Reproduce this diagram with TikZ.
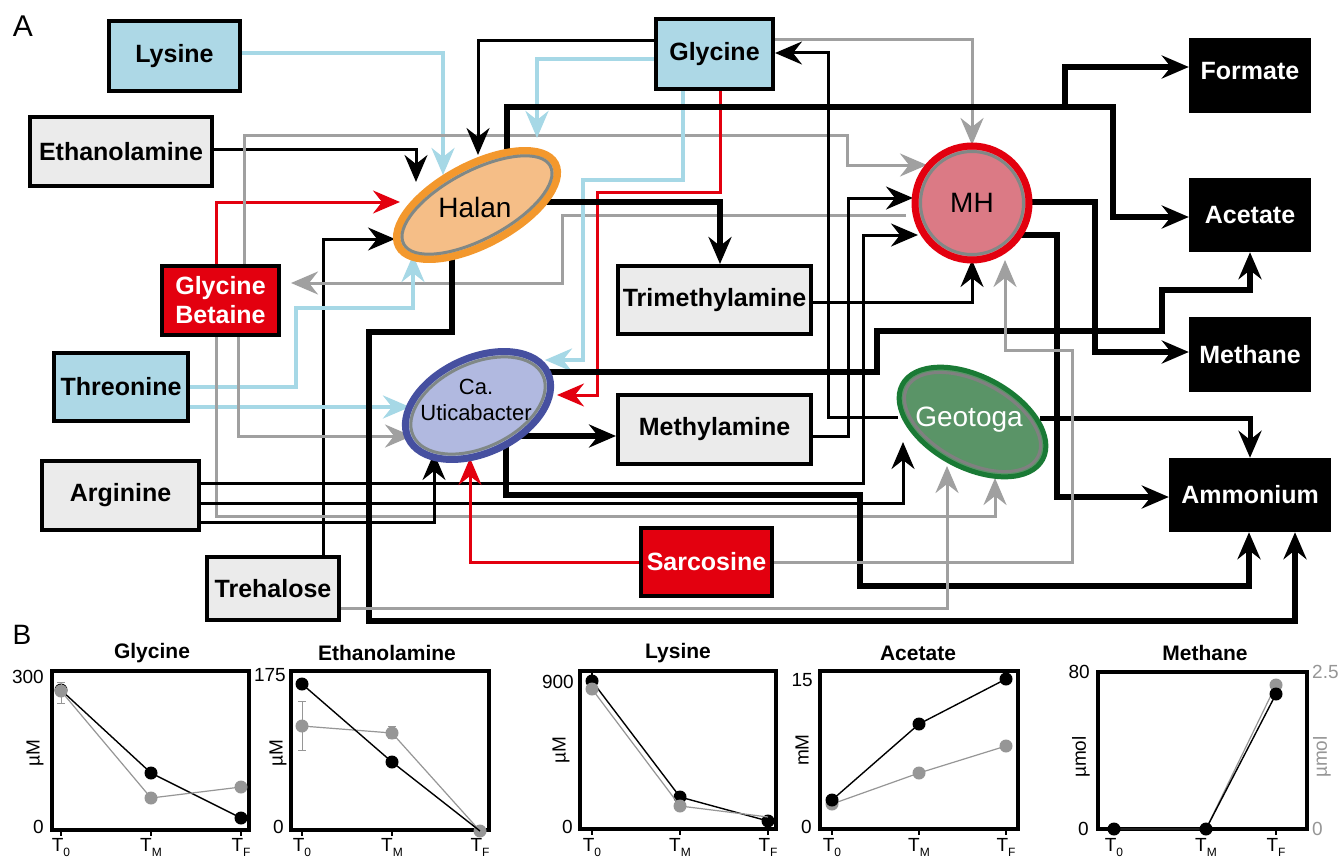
\documentclass[tikz,border=0pt]{standalone}
\usepackage{fontspec}
\setmainfont{Liberation Sans}
\usetikzlibrary{arrows.meta,shapes.geometric}
\pgfdeclarelayer{back}
\pgfdeclarelayer{bg}
\pgfsetlayers{back,bg,main}
\definecolor{lbox}{RGB}{173,216,230}
\definecolor{lline}{RGB}{166,216,230}
\definecolor{gbox}{RGB}{235,235,235}
\definecolor{rd}{RGB}{227,0,15}
\definecolor{gl}{RGB}{160,160,160}
\definecolor{halfill}{RGB}{245,190,135}
\definecolor{halbord}{RGB}{243,152,45}
\definecolor{ringc}{RGB}{128,136,134}
\definecolor{ucfill}{RGB}{177,185,224}
\definecolor{ucbord}{RGB}{70,80,160}
\definecolor{mhfill}{RGB}{219,122,133}
\definecolor{gefill}{RGB}{90,148,103}
\definecolor{gebord}{RGB}{26,122,53}
\definecolor{dotgrey}{RGB}{150,150,150}
\newcommand\tkBox{\fontsize{25}{29}\selectfont\bfseries}
\newcommand\tkEll{\fontsize{28}{30}\selectfont}
\newcommand\tkUca{\fontsize{22}{26}\selectfont}
\newcommand\tkTitle{\fontsize{21}{23}\selectfont\bfseries}
\newcommand\tkNum{\fontsize{19}{20}\selectfont}
\newcommand\tkT[1]{T\raisebox{-5pt}{\fontsize{12}{12}\selectfont #1}}
\begin{document}
\begin{tikzpicture}[x=1pt,y=-1pt,
  >={Stealth[length=27pt,width=23pt,inset=9pt]},
  box/.style={draw=black,line width=4pt,inner sep=0pt,font=\tkBox,align=center},
  bluebox/.style={box,fill=lbox},
  greybox/.style={box,fill=gbox},
  redbox/.style={box,fill=rd,text=white},
  blkbox/.style={fill=black,text=white,inner sep=0pt,font=\tkBox},
  aBlk/.style={line width=3pt,->,black},
  aThk/.style={line width=6.5pt,->,black},
  aMed/.style={line width=5pt,->,black},
  aGry/.style={line width=3pt,->,gl},
  aBlu/.style={line width=4pt,->,lline},
  aRed/.style={line width=3pt,->,rd},
  ringstyle/.style={ellipse,draw=ringc,line width=3pt,inner sep=0pt},
  frame/.style={draw=black,line width=4pt},
  tick/.style={line width=1.5pt},
  dataB/.style={line width=1.4pt,black},
  dataG/.style={line width=1.2pt,dotgrey},
  err/.style={line width=1pt,dotgrey},
  lab/.style={font=\tkNum,inner sep=0pt},
  ttl/.style={font=\tkTitle,inner sep=0pt},
]
\useasboundingbox (0,0) rectangle (1344,859);
\begin{pgfonlayer}{back}
\fill[white] (0,0) rectangle (1344,859);
\end{pgfonlayer}

% ---------- boxes ----------
\node[bluebox,minimum width=131,minimum height=70] (Lysine) at (174.5,56) {Lysine};
\node[greybox,minimum width=182,minimum height=69] (Ethanolamine) at (121,151.5) {Ethanolamine};
\node[redbox,minimum width=117,minimum height=69] (GlyBet) at (220.5,300.5) {Glycine\\Betaine};
\node[bluebox,minimum width=134,minimum height=68] (Threonine) at (121,387) {Threonine};
\node[greybox,minimum width=157,minimum height=69] (Arginine) at (120.5,495.5) {Arginine};
\node[greybox,minimum width=132,minimum height=63] (Trehalose) at (273,588.5) {Trehalose};
\node[bluebox,minimum width=117,minimum height=70] (Glycine) at (714.5,54) {Glycine};
\node[greybox,minimum width=193,minimum height=68] (Trimethylamine) at (714.5,300) {Trimethylamine};
\node[greybox,minimum width=193,minimum height=69] (Methylamine) at (714.5,429.5) {Methylamine};
\node[redbox,minimum width=131,minimum height=68] (Sarcosine) at (706.5,562) {Sarcosine};
\node[blkbox,minimum width=122,minimum height=75,text depth=10pt] (Formate) at (1250,75.5) {Formate};
\node[blkbox,minimum width=122,minimum height=74] (Acetate) at (1250,215) {Acetate};
\node[blkbox,minimum width=122,minimum height=75] (Methane) at (1250,354.5) {Methane};
\node[blkbox,minimum width=162,minimum height=74] (Ammonium) at (1250,495) {Ammonium};

% ---------- organisms ----------
\node[ellipse,draw=halbord,fill=halfill,line width=7.5pt,minimum width=177,minimum height=79,inner sep=0pt,rotate=28] (Halan) at (477,205) {};
\node[ringstyle,minimum width=166,minimum height=68,rotate=28] (HalanRing) at (Halan.center) {};
\node[font=\tkEll,inner sep=0pt] (HalanLbl) at (475,207) {Halan};

\node[ellipse,draw=ucbord,fill=ucfill,line width=7pt,minimum width=154,minimum height=95,inner sep=0pt,rotate=25] (Ucab) at (478,405.5) {};
\node[ringstyle,minimum width=143,minimum height=84,rotate=25] (UcabRing) at (Ucab.center) {};
\node[font=\tkUca,align=center,inner sep=0pt] (UcabLbl) at (476,400) {Ca.\\Uticabacter};

\node[circle,draw=rd,fill=mhfill,line width=7pt,minimum size=114,inner sep=0pt] (MH) at (972,203) {};
\node[circle,draw=ringc,line width=3pt,minimum size=103,inner sep=0pt] (MHRing) at (MH.center) {};
\node[font=\tkEll,inner sep=0pt] (MHLbl) at (MH.center) {MH};

\node[ellipse,draw=gebord,fill=gefill,line width=5pt,minimum width=159,minimum height=91,inner sep=0pt,rotate=-28] (Geo) at (972.5,422) {};
\node[ringstyle,draw=gray,minimum width=148,minimum height=80,rotate=-28] (GeoRing) at (Geo.center) {};
\node[font=\tkEll,text=white,inner sep=0pt] (GeoLbl) at (969,420) {Geotoga};

% ---------- connectors ----------
\begin{pgfonlayer}{bg}
\draw[aBlu] (Lysine.east |- 0,53) -| (443,175);
\draw[aBlk] (Ethanolamine.east |- 0,149) -| (416,182);
\draw[aRed] (GlyBet.north -| 216,0) |- (400,202);
\draw[aGry] (GlyBet.north -| 244,0) -- (244,135) -- (847,135) -- (847,165) -- (927,165);
\draw[aBlk] (Trehalose.north -| 323,0) |- (395,239);
\draw[aGry] (906,215) -- (562,215) -- (562,283) -- (291,283);
\draw[aBlu] (Threonine.east |- 0,387) -- (296,387) -- (296,308) -- (413,308) -- (413,255);
\draw[aBlu] (Threonine.east |- 0,407) -- (410,407);
\draw[aGry] (GlyBet.south -| 238,0) |- (412,436);
\draw[aGry] (GlyBet.south -| 216,0) -- (216,516) -| (995,478);
\draw[aBlk] (Arginine.east |- 0,483) -- (863,483) -- (863,235) -- (918,235);
\draw[aBlk] (Arginine.east |- 0,503) -| (903,442);
\draw[aBlk] (Arginine.east |- 0,522) -| (434,453);
\draw[aBlk] (Trimethylamine.east |- 0,302) -| (972,260);
\draw[aBlk] (Methylamine.east |- 0,436) -- (848,436) -- (848,198) -- (913,198);
\draw[aBlk] (898,417) -- (828,417) -- (828,53) -- (Glycine.east |- 0,53);
\draw[aBlk] (Glycine.west |- 0,41) -| (478,155);
\draw[aBlu] (Glycine.west |- 0,59) -| (537,138);
\draw[aBlu] (Glycine.south -| 683,0) -- (683,180) -- (583,180) -- (583,360) -- (545,360);
\draw[aRed] (Glycine.south -| 720,0) -- (720,192) -- (597,192) -- (597,395) -- (557,395);
\draw[aGry] (Glycine.east |- 0,40) -| (972,145);
\draw[aThk] (507,160) -- (507,107) -- (1065,107) -- (1065,67) -- (Formate.west |- 0,67);
\draw[aThk] (507,160) -- (507,107) -- (1113,107) -- (1113,217) -- (Acetate.west |- 0,217);
\draw[aThk] (545,202) -| (Trimethylamine.north -| 720,0);
\draw[aThk] (452,250) -- (452,332) -- (369,332) -- (369,621) -- (1295,621) -- (Ammonium.south -| 1295,0);
\draw[aThk] (506,436) -- (Methylamine.west |- 0,436);
\draw[aThk] (506,436) -- (506,495) -- (860,495) -- (860,586) -- (1249,586) -- (Ammonium.south -| 1249,0);
\draw[aThk] (540,372) -- (877,372) -- (877,331) -- (1162,331) -- (1162,290) -- (1250,290) -- (Acetate.south -| 1250,0);
\draw[aThk] (1025,202) -- (1095,202) -- (1095,352) -- (Methane.west |- 0,352);
\draw[aThk] (1015,235) -- (1057,235) -- (1057,497) -- (Ammonium.west |- 0,497);
\draw[aMed] (1040,418) -| (Ammonium.north -| 1250,0);
\draw[aRed] (Sarcosine.west |- 0,562) -| (470,458);
\draw[aGry] (Sarcosine.east |- 0,562) -- (1072,562) -- (1072,350) -- (1005,350) -- (1005,260);
\draw[aGry] (Trehalose.east |- 0,608) -| (947,466);
\end{pgfonlayer}

% ---------- panel labels ----------
\node[font=\fontsize{30}{32}\selectfont,inner sep=0pt] (labA) at (23,26) {A};
\node[font=\fontsize{28}{30}\selectfont,inner sep=0pt] (labB) at (22,635) {B};

% ---------- plot 1: Glycine ----------
\draw[frame] (52,671) rectangle (249,830);
\foreach \x in {61,151,241} \draw[tick] (\x,830) -- (\x,836);
\node[ttl] (p1t) at (152,653) {Glycine};
\node[lab,anchor=east] (p1y1) at (44,677) {300};
\node[lab,anchor=east] (p1y0) at (44,827) {0};
\node[lab,rotate=90] (p1u) at (35,753) {µM};
\node[lab,anchor=north] (p1a) at (61,838) {\tkT{0}};
\node[lab,anchor=north] (p1b) at (151,838) {\tkT{M}};
\node[lab,anchor=north] (p1c) at (241,838) {\tkT{F}};
\draw[dataB] (61,690) -- (151,773) -- (241,818);
\foreach \p in {(61,690),(151,773),(241,818)} \fill[black] \p circle (6.5);
\draw[err] (61,682) -- (61,703) (57,682) -- (65,682) (57,703) -- (65,703);
\draw[dataG] (61,691) -- (151,798) -- (241,787);
\foreach \p in {(61,691),(151,798),(241,787)} \fill[dotgrey] \p circle (6.5);

% ---------- plot 2: Ethanolamine ----------
\draw[frame] (291,671) rectangle (489,830);
\foreach \x in {302,392,480} \draw[tick] (\x,830) -- (\x,836);
\node[ttl] (p2t) at (387,653) {Ethanolamine};
\node[lab,anchor=east] (p2y1) at (286,675) {175};
\node[lab,anchor=east] (p2y0) at (284,827) {0};
\node[lab,rotate=90] (p2u) at (278,753) {µM};
\node[lab,anchor=north] (p2a) at (302,838) {\tkT{0}};
\node[lab,anchor=north] (p2b) at (392,838) {\tkT{M}};
\node[lab,anchor=north] (p2c) at (480,838) {\tkT{F}};
\draw[err] (302,701) -- (302,750) (298,701) -- (306,701) (298,750) -- (306,750);
\draw[err] (392,726) -- (392,738) (388,726) -- (396,726) (388,738) -- (396,738);
\draw[dataG] (302,726) -- (392,733) -- (480,831);
\foreach \p in {(302,726),(392,733),(480,831)} \fill[dotgrey] \p circle (6.5);
\draw[line width=1pt] (302,678) -- (302,690);
\draw[dataB] (302,684) -- (392,762) -- (480,831);
\foreach \p in {(302,684),(392,762)} \fill[black] \p circle (6.5);

% ---------- plot 3: Lysine ----------
\draw[frame] (580,671) rectangle (776,829);
\foreach \x in {592,680,768} \draw[tick] (\x,829) -- (\x,835);
\node[ttl] (p3t) at (678,653) {Lysine};
\node[lab,anchor=east] (p3y1) at (574,682) {900};
\node[lab,anchor=east] (p3y0) at (573,827) {0};
\node[lab,rotate=90] (p3u) at (561,750) {µM};
\node[lab,anchor=north] (p3a) at (592,838) {\tkT{0}};
\node[lab,anchor=north] (p3b) at (680,838) {\tkT{M}};
\node[lab,anchor=north] (p3c) at (768,838) {\tkT{F}};
\draw[line width=1.2pt] (592,669) -- (592,681);
\draw[dataB] (592,681) -- (680,797) -- (768,821);
\foreach \p in {(592,681),(680,797),(768,821)} \fill[black] \p circle (6.5);
\draw[dataG] (592,689) -- (680,806) -- (768,817);
\foreach \p in {(592,689),(680,806)} \fill[dotgrey] \p circle (6.5);

% ---------- plot 4: Acetate ----------
\draw[frame] (820,671) rectangle (1018,829);
\foreach \x in {832,919,1006} \draw[tick] (\x,829) -- (\x,835);
\node[ttl] (p4t) at (918,653) {Acetate};
\node[lab,anchor=east] (p4y1) at (813,680) {15};
\node[lab,anchor=east] (p4y0) at (812,827) {0};
\node[lab,rotate=90] (p4u) at (802,750) {mM};
\node[lab,anchor=north] (p4a) at (832,838) {\tkT{0}};
\node[lab,anchor=north] (p4b) at (919,838) {\tkT{M}};
\node[lab,anchor=north] (p4c) at (1006,838) {\tkT{F}};
\draw[dataG] (832,804) -- (919,773) -- (1006,746);
\foreach \p in {(832,804),(919,773),(1006,746)} \fill[dotgrey] \p circle (6.5);
\draw[dataB] (832,800) -- (919,724) -- (1006,679);
\foreach \p in {(832,800),(919,724),(1006,679)} \fill[black] \p circle (6.5);

% ---------- plot 5: Methane ----------
\draw[frame] (1098,672) rectangle (1307,829);
\foreach \x in {1114,1206,1276} \draw[tick] (\x,829) -- (\x,835);
\node[ttl] (p5t) at (1205,653) {Methane};
\node[lab,anchor=east] (p5y1) at (1090,672) {80};
\node[lab,anchor=east] (p5y0) at (1089,829) {0};
\node[lab,rotate=90] (p5u) at (1081,757) {µmol};
\node[lab,anchor=west,text=dotgrey] (p5r1) at (1312,672) {2.5};
\node[lab,anchor=west,text=dotgrey] (p5r0) at (1312,829) {0};
\node[lab,rotate=90,text=dotgrey] (p5ur) at (1322,757) {µmol};
\node[lab,anchor=north] (p5a) at (1114,838) {\tkT{0}};
\node[lab,anchor=north] (p5b) at (1206,838) {\tkT{M}};
\node[lab,anchor=north] (p5c) at (1276,838) {\tkT{F}};
\draw[dataG] (1114,829) -- (1206,829) -- (1276,685);
\fill[dotgrey] (1276,685) circle (6.5);
\draw[dataB] (1114,829) -- (1206,829) -- (1276,694);
\foreach \p in {(1114,829),(1206,829),(1276,694)} \fill[black] \p circle (6.5);
\end{tikzpicture}
\end{document}
